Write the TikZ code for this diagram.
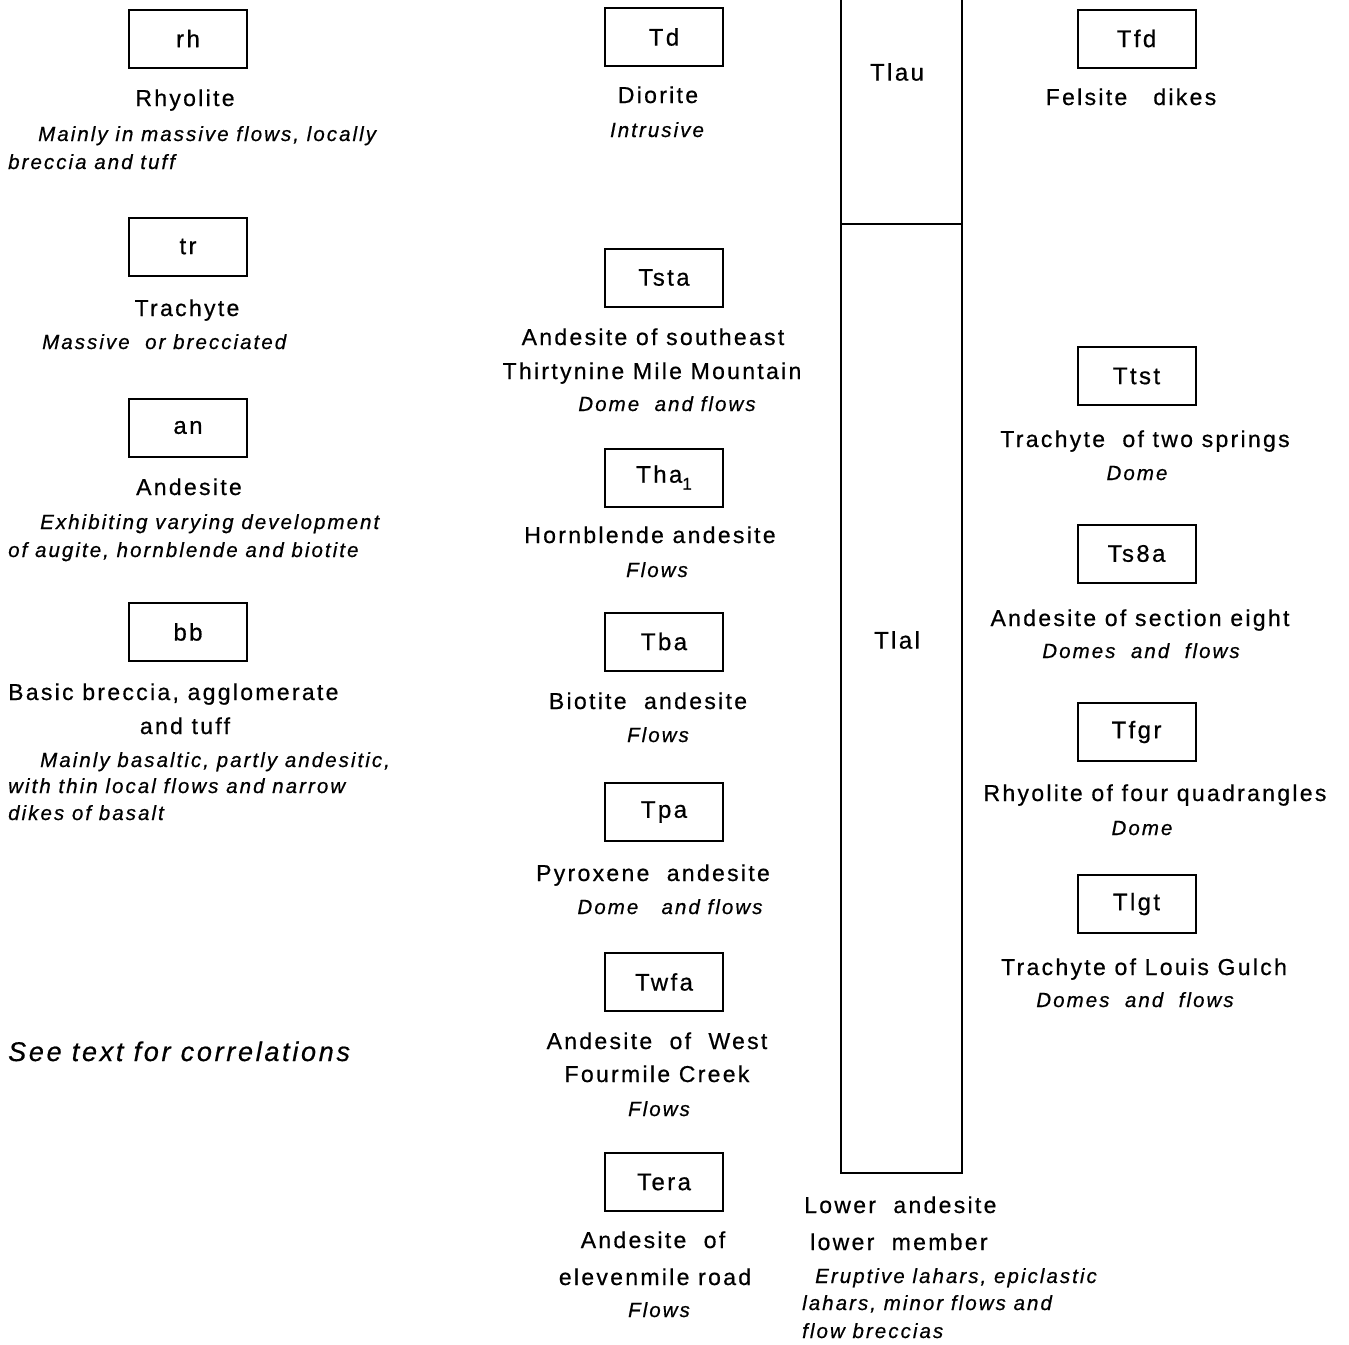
\documentclass[tikz,border=0pt]{standalone}
\usepackage{fontspec}
\setmainfont[LetterSpace=10]{Liberation Sans}
\newfontfamily\labfont[LetterSpace=10,FakeBold=0.6]{Liberation Sans}
\newcommand{\lab}{\labfont\fontsize{23}{23}\selectfont}
\newcommand{\nt}{\labfont\itshape\fontsize{20.5}{20.5}\selectfont}
\newcommand{\bignt}{\labfont\itshape\fontsize{27}{27}\selectfont}
\newcommand{\codef}{\labfont\fontsize{24}{24}\selectfont}
\begin{document}
\begin{tikzpicture}[x=1pt,y=-1pt,
  unitbox/.style={draw, line width=2, minimum width=118, minimum height=58, inner sep=0, font=\codef},
  lb/.style={inner sep=0, anchor=base, font=\lab},
  lbw/.style={lb, anchor=base west},
  nt/.style={inner sep=0, anchor=base, font=\nt},
  ntw/.style={nt, anchor=base west}]
\useasboundingbox (0,0) rectangle (1349,1344);
\fill[white] (0,0) rectangle (1349,1344);

% ---------- left column ----------
\node[unitbox] (rh) at (188,38.5) {rh};
\node[lb] (rhT) at (185,106) {Rhyolite};
\node[ntw] (rhN1) at (38,141) {Mainly in massive flows, locally};
\node[ntw] (rhN2) at (8,169) {breccia and tuff};

\node[unitbox] (tr) at (188,246.5) {tr};
\node[lb] (trT) at (187,316) {Trachyte};
\node[ntw] (trN) at (42,349) {Massive\ \ or brecciated};

\node[unitbox] (an) at (188,427.5) {an};
\node[lb] (anT) at (189,495) {Andesite};
\node[ntw] (anN1) at (40,529) {Exhibiting varying development};
\node[ntw] (anN2) at (8,557) {of augite, hornblende and biotite};

\node[unitbox] (bb) at (188,632) {bb};
\node[lbw] (bbT1) at (8,700) {Basic breccia, agglomerate};
\node[lb] (bbT2) at (185,734) {and tuff};
\node[ntw] (bbN1) at (40,767) {Mainly basaltic, partly andesitic,};
\node[ntw] (bbN2) at (8,793) {with thin local flows and narrow};
\node[ntw] (bbN3) at (8,820) {dikes of basalt};

\node[inner sep=0, anchor=base west, font=\bignt] (see) at (8,1061) {See text for correlations};

% ---------- middle column ----------
\node[unitbox] (Td) at (664,37) {Td};
\node[lb] (TdT) at (658,103) {Diorite};
\node[nt] (TdN) at (657,137) {Intrusive};

\node[unitbox] (Tsta) at (664,277.5) {Tsta};
\node[lb] (TstaT1) at (653,345) {Andesite of southeast};
\node[lb] (TstaT2) at (652,379) {Thirtynine Mile Mountain};
\node[nt] (TstaN) at (667,411) {Dome\ \ and flows};

\node[unitbox] (Tha) at (664,477.5) {Tha\raisebox{-7pt}{\fontsize{17}{17}\selectfont 1}};
\node[lb] (ThaT) at (650,543) {Hornblende andesite};
\node[nt] (ThaN) at (657,577) {Flows};

\node[unitbox] (Tba) at (664,641.5) {Tba};
\node[lb] (TbaT) at (648,709) {Biotite\ \ andesite};
\node[nt] (TbaN) at (658,742) {Flows};

\node[unitbox] (Tpa) at (664,812) {Tpa};
\node[lb] (TpaT) at (653,881) {Pyroxene\ \ andesite};
\node[nt] (TpaN) at (670,914) {Dome\ \ \ and flows};

\node[unitbox] (Twfa) at (664,982) {Twfa};
\node[lb] (TwfaT1) at (657,1049) {Andesite\ \ of\ \ West};
\node[lb] (TwfaT2) at (657,1082) {Fourmile Creek};
\node[nt] (TwfaN) at (659,1116) {Flows};

\node[unitbox] (Tera) at (664,1182) {Tera};
\node[lb] (TeraT1) at (653,1248) {Andesite\ \ of};
\node[lb] (TeraT2) at (655,1285) {elevenmile road};
\node[nt] (TeraN) at (659,1317) {Flows};

% ---------- tall column ----------
\coordinate (cTL) at (841,0);
\coordinate (cTR) at (962,0);
\coordinate (cML) at (841,224);
\coordinate (cMR) at (962,224);
\coordinate (cBL) at (841,1173);
\coordinate (cBR) at (962,1173);
\draw[line width=2] (cTL) -- (cBL) -- (cBR) -- (cTR);
\draw[line width=2] (cML) -- (cMR);
\node[inner sep=0, font=\codef] (Tlau) at (897,72) {Tlau};
\node[inner sep=0, font=\codef] (Tlal) at (897,640) {Tlal};
\node[lbw] (laT1) at (804,1213) {Lower\ \ andesite};
\node[lbw] (laT2) at (810,1250) {lower\ \ member};
\node[ntw] (laN1) at (815,1283) {Eruptive lahars, epiclastic};
\node[ntw] (laN2) at (802,1310) {lahars, minor flows and};
\node[ntw] (laN3) at (802,1338) {flow breccias};

% ---------- right column ----------
\node[unitbox] (Tfd) at (1136.5,38.5) {Tfd};
\node[lb] (TfdT) at (1131,105) {Felsite\ \ \ dikes};

\node[unitbox] (Ttst) at (1136.5,376) {Ttst};
\node[lb] (TtstT) at (1145,447) {Trachyte\ \ of two springs};
\node[nt] (TtstN) at (1137,480) {Dome};

\node[unitbox] (Ts8a) at (1136.5,553.5) {Ts8a};
\node[lb] (Ts8aT) at (1140,626) {Andesite of section eight};
\node[nt] (Ts8aN) at (1141,658) {Domes\ \ and\ \ flows};

\node[unitbox] (Tfgr) at (1136.5,732) {Tfgr};
\node[lb] (TfgrT) at (1155,801) {Rhyolite of four quadrangles};
\node[nt] (TfgrN) at (1142,835) {Dome};

\node[unitbox] (Tlgt) at (1136.5,904) {Tlgt};
\node[lb] (TlgtT) at (1144,975) {Trachyte of Louis Gulch};
\node[nt] (TlgtN) at (1135,1007) {Domes\ \ and\ \ flows};
\end{tikzpicture}
\end{document}
